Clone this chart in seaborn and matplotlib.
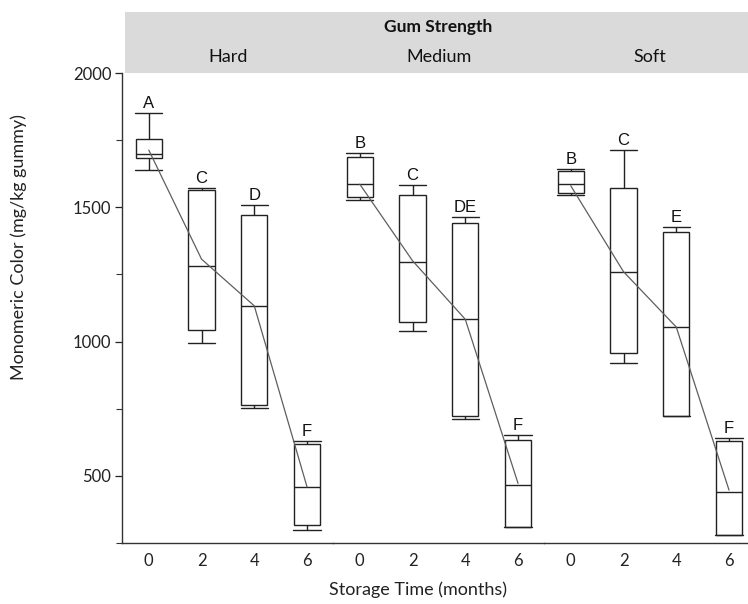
import numpy as np
import pandas as pd
import matplotlib
matplotlib.use("Agg")
import matplotlib.pyplot as plt
import seaborn as sns
from matplotlib.patches import Rectangle
from matplotlib.ticker import MultipleLocator

# ---------------- data ----------------
strengths = ["Hard", "Medium", "Soft"]
times = ["0", "2", "4", "6"]
# five-number summaries, order: Hard 0,2,4,6 | Medium 0,2,4,6 | Soft 0,2,4,6
whisk_lo = [1638, 993, 753, 300, 1526, 1039, 711, 310, 1545, 921, 724, 279]
q1 = [1682, 1043, 765, 316, 1538, 1074, 724, 310, 1555, 956, 724, 279]
median = [1698, 1280, 1133, 459, 1586, 1295, 1083, 466, 1588, 1258, 1054, 441]
q3 = [1754, 1563, 1472, 619, 1686, 1547, 1442, 634, 1634, 1572, 1407, 628]
whisk_hi = [1850, 1572, 1507, 628, 1701, 1582, 1464, 653, 1644, 1713, 1426, 640]
means = [1713, 1307, 1133, 459, 1586, 1301, 1083, 472, 1580, 1260, 1054, 447]
letters = ["A", "C", "D", "F", "B", "C", "DE", "F", "B", "C", "E", "F"]

rows = []
k = 0
for s in strengths:
    for t in times:
        for v in (whisk_lo[k], q1[k], median[k], q3[k], whisk_hi[k]):
            rows.append({"strength": s, "time": t, "value": v})
        k += 1
df = pd.DataFrame(rows)

# ---------------- style ----------------
sns.set_style("ticks")
plt.rcParams['font.family'] = ['Lato', 'DejaVu Sans']

W, H = 748, 604
fig = plt.figure(figsize=(W / 100, H / 100), dpi=100)
fig.patch.set_facecolor("white")

left_px, top_px, bottom_px, panel_px = 122.4, 73, 543, 211

# header band
fig.add_artist(Rectangle((125 / W, (H - 73) / H), (W - 125) / W, 61 / H,
                         transform=fig.transFigure, facecolor="#dadada",
                         edgecolor="none", zorder=0))
fig.text(438.5 / W, (H - 27) / H, "Gum Strength", ha="center", va="center",
         fontsize=12.5, fontweight="bold", color="#111")

line_col = "#222222"
for i, s in enumerate(strengths):
    ax = fig.add_axes([(left_px + i * panel_px) / W, (H - bottom_px) / H,
                       panel_px / W, (bottom_px - top_px) / H])
    ax.set_facecolor("none")
    sub = df[df["strength"] == s]
    sns.boxplot(data=sub, x="time", y="value", order=times, width=0.5,
                whis=(0, 100), color="white", linecolor=line_col,
                linewidth=1.0, capwidths=0.52, ax=ax)
    sl = slice(i * 4, i * 4 + 4)
    sns.pointplot(x=times, y=means[sl], order=times, color="#5e5e5e",
                  marker="", linewidth=0.9, errorbar=None, ax=ax, zorder=5)
    for j, t in enumerate(times):
        ax.annotate(letters[i * 4 + j], (j, whisk_hi[i * 4 + j]),
                    xytext=(0, 1.5), textcoords="offset points",
                    ha="center", va="bottom", fontsize=12,
                    family="Liberation Sans", color="#111")
    ax.set_xlim(-0.5, 3.5)
    ax.set_ylim(250, 2000)
    ax.yaxis.set_major_locator(MultipleLocator(500))
    ax.yaxis.set_minor_locator(MultipleLocator(250))
    ax.tick_params(axis="x", length=0, labelsize=12, pad=7, colors="#222")
    ax.set_xlabel("")
    ax.set_ylabel("")
    for sp in ("top", "right"):
        ax.spines[sp].set_visible(False)
    ax.spines["bottom"].set_color("#333")
    ax.spines["bottom"].set_linewidth(1.0)
    if i == 0:
        ax.spines["left"].set_color("#333")
        ax.spines["left"].set_linewidth(1.0)
        ax.tick_params(axis="y", which="major", length=5, width=0.9,
                       labelsize=12, colors="#222", pad=3)
        ax.tick_params(axis="y", which="minor", length=4, width=0.8, colors="#333")
        ax.set_ylabel("Monomeric Color (mg/kg gummy)", fontsize=13, color="#222")
        ax.yaxis.set_label_coords(-0.45, 0.63)
    else:
        ax.spines["left"].set_visible(False)
        ax.tick_params(axis="y", which="both", left=False, labelleft=False)
    fig.text((left_px + i * panel_px + panel_px / 2) / W, (H - 57) / H, s,
             ha="center", va="center", fontsize=13, color="#111")

fig.text(418 / W, (H - 590) / H, "Storage Time (months)", ha="center",
         va="center", fontsize=13, color="#222")

fig.savefig("out.png", dpi=100)
